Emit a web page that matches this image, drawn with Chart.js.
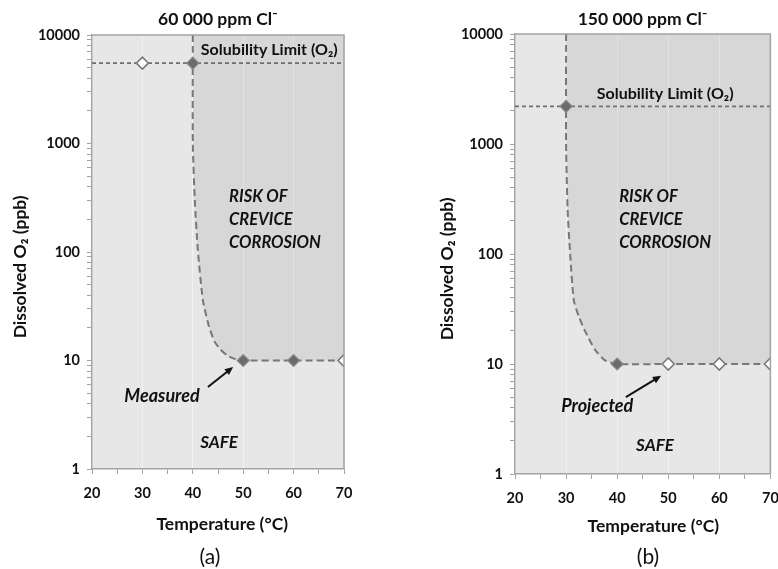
<!DOCTYPE html>
<html><head><meta charset="utf-8">
<script src="https://cdn.jsdelivr.net/npm/chart.js@4/dist/chart.umd.min.js"></script>
<style>
html,body{margin:0;padding:0;background:#fff;}
#wrap{position:relative;width:778px;height:569px;overflow:hidden;}
canvas{position:absolute;top:0;}
</style></head><body>
<div id="wrap">
<canvas id="c1" width="389" height="569" style="left:0"></canvas>
<canvas id="c2" width="389" height="569" style="left:389px"></canvas>
</div>
<script>
// ---------- shared axes ----------
const xTickLabels = [20, 30, 40, 50, 60, 70];
const yTickLabels = [1, 10, 100, 1000, 10000];

// ---------- panel (a): 60 000 ppm Cl- ----------
const titleA = '60 000 ppm Cl⁻';
const solubilityA = 5500;
const filledTempA = [40, 50, 60];
const filledO2A = [5500, 10, 10];
const openTempA = [30, 70];
const openO2A = [5500, 10];
const boundaryTempA = [40, 40, 40.4, 41, 42, 43.2, 44.3, 45.5, 47, 48.5, 50, 60, 70];
const boundaryO2A = [10000, 1000, 300, 104, 36, 20.7, 15, 12.6, 11, 10.3, 10, 10, 10];

// ---------- panel (b): 150 000 ppm Cl- ----------
const titleB = '150 000 ppm Cl⁻';
const solubilityB = 2200;
const filledTempB = [30, 40];
const filledO2B = [2200, 10];
const openTempB = [50, 60, 70];
const openO2B = [10, 10, 10];
const boundaryTempB = [30, 30, 30.3, 30.8, 31.5, 32.5, 33.7, 35.7, 37.6, 40, 50, 60, 70];
const boundaryO2B = [10000, 1000, 250, 100, 38, 27, 20, 13.4, 10.8, 10, 10, 10, 10];

const FONT = 'Lato, "DejaVu Sans", sans-serif';
const pts = (xs, ys) => xs.map((x, i) => ({x: x, y: ys[i]}));

const panelPlugin = {
  id: 'panel',
  beforeDraw(chart, args, opts) {
    const {ctx, chartArea: a} = chart;
    ctx.save();
    ctx.fillStyle = '#e7e7e7';
    ctx.fillRect(a.left, a.top, a.right - a.left, a.bottom - a.top);
    ctx.restore();
  },
  afterDraw(chart, args, opts) {
    const {ctx, chartArea: a} = chart;
    const x = chart.scales.x, y = chart.scales.y;
    ctx.save();
    ctx.strokeStyle = '#a3a3a3';
    ctx.lineWidth = 1.5;
    ctx.beginPath();
    ctx.moveTo(a.left, a.top); ctx.lineTo(a.right, a.top); ctx.lineTo(a.right, a.bottom);
    ctx.stroke();
    ctx.fillStyle = '#111';
    ctx.textBaseline = 'middle';
    for (const t of opts.texts) {
      ctx.font = t.font;
      ctx.textAlign = t.align;
      const px = x.getPixelForValue(t.x), py = y.getPixelForValue(t.y);
      t.lines.forEach((s, i) => ctx.fillText(s, px, py + i * (t.step || 0)));
    }
    const ar = opts.arrow;
    const x1 = x.getPixelForValue(ar.from[0]), y1 = y.getPixelForValue(ar.from[1]);
    const x2 = x.getPixelForValue(ar.to[0]), y2 = y.getPixelForValue(ar.to[1]);
    const ang = Math.atan2(y2 - y1, x2 - x1);
    ctx.strokeStyle = '#111'; ctx.lineWidth = 2;
    ctx.beginPath(); ctx.moveTo(x1, y1);
    ctx.lineTo(x2 - 6 * Math.cos(ang), y2 - 6 * Math.sin(ang)); ctx.stroke();
    ctx.beginPath();
    ctx.moveTo(x2, y2);
    ctx.lineTo(x2 - 9 * Math.cos(ang - 0.42), y2 - 9 * Math.sin(ang - 0.42));
    ctx.lineTo(x2 - 9 * Math.cos(ang + 0.42), y2 - 9 * Math.sin(ang + 0.42));
    ctx.closePath(); ctx.fill();
    ctx.font = '21px ' + FONT;
    ctx.textAlign = 'center';
    ctx.fillText(opts.caption, opts.captionX, opts.captionY);
    ctx.restore();
  }
};

function makePanel(canvasId, cfg) {
  return new Chart(document.getElementById(canvasId), {
    type: 'scatter',
    data: {
      datasets: [
        { data: pts(cfg.filledT, cfg.filledV), pointStyle: 'rectRot', pointRadius: 6, pointHoverRadius: 6,
          backgroundColor: '#6b6b6b', borderColor: '#8a8a8a', borderWidth: 1.2, showLine: false },
        { data: pts(cfg.openT, cfg.openV), pointStyle: 'rectRot', pointRadius: 6, pointHoverRadius: 6,
          backgroundColor: '#ffffff', borderColor: '#7a7a7a', borderWidth: 1.6, showLine: false },
        { data: pts([20, 70], [cfg.sol, cfg.sol]), showLine: true, pointRadius: 0,
          borderColor: '#6f6f6f', borderWidth: 1.6, borderDash: [4, 3], fill: false },
        { data: pts(cfg.boundT, cfg.boundV), showLine: true, pointRadius: 0, tension: 0.2,
          borderColor: '#777777', borderWidth: 2, borderDash: [7, 4],
          fill: 'end', backgroundColor: 'rgba(0,0,0,0.065)' }
      ]
    },
    options: {
      responsive: false, animation: false, devicePixelRatio: 1,
      layout: { padding: { left: 0, right: cfg.padRight, top: 0, bottom: 0 } },
      plugins: {
        legend: { display: false }, tooltip: { enabled: false },
        title: { display: true, text: cfg.title, fullSize: false, color: '#111',
                 font: { family: FONT, size: 17.5, weight: 'bold', lineHeight: 1.2 },
                 padding: { top: 9, bottom: cfg.titleBottom } },
        panel: cfg.panel
      },
      scales: {
        x: {
          type: 'linear', min: 20, max: 70,
          afterBuildTicks: s => { const t = []; for (let v = 20; v <= 70; v += 5) t.push({value: v}); s.ticks = t; },
          afterFit: s => { s.height = cfg.xAxisH; s.paddingLeft = 0; s.paddingRight = 0; },
          ticks: { autoSkip: false, maxRotation: 0, padding: 11, color: '#111',
                   font: { family: FONT, size: 14.5, weight: 'bold' },
                   callback: v => xTickLabels.includes(v) ? String(v) : '' },
          grid: { drawOnChartArea: true, drawTicks: true, tickLength: 5,
                  color: c => (c.tick && c.tick.value % 10 === 0) ? '#f2f2f2' : 'rgba(0,0,0,0)',
                  tickColor: '#a3a3a3', lineWidth: 1 },
          border: { color: '#a3a3a3', width: 1.5 },
          title: { display: true, text: cfg.xTitle, color: '#111',
                   font: { family: FONT, size: 17.5, weight: 'bold', lineHeight: 1.2 },
                   padding: { top: 0, bottom: cfg.xTitleBottom } }
        },
        y: {
          type: 'logarithmic', min: 1, max: 10000,
          afterBuildTicks: s => { const t = [];
            for (let i = 0; i < yTickLabels.length - 1; i++) for (let m = 1; m <= 9; m++) t.push({value: m * yTickLabels[i]});
            t.push({value: yTickLabels[yTickLabels.length - 1]}); s.ticks = t; },
          afterFit: s => { s.width = cfg.yAxisW; },
          ticks: { autoSkip: false, padding: 7, color: '#111',
                   font: { family: FONT, size: 14.5, weight: 'bold' },
                   callback: v => yTickLabels.includes(v) ? String(v) : '' },
          grid: { drawOnChartArea: false, drawTicks: true, tickLength: 5, tickColor: '#a3a3a3' },
          border: { color: '#a3a3a3', width: 1.5 },
          title: { display: true, text: 'Dissolved O₂ (ppb)       ', color: '#111',
                   font: { family: FONT, size: 17.5, weight: 'bold', lineHeight: 1.2 },
                   padding: { top: cfg.yTitleTop, bottom: 0 } }
        }
      }
    },
    plugins: [panelPlugin]
  });
}

makePanel('c1', {
  title: titleA, sol: solubilityA, xTitle: '  Temperature (°C)',
  filledT: filledTempA, filledV: filledO2A, openT: openTempA, openV: openO2A,
  boundT: boundaryTempA, boundV: boundaryO2A,
  padRight: 45, titleBottom: 5, xAxisH: 100, yAxisW: 92, xTitleBottom: 34.5, yTitleTop: 9.5,
  panel: {
    caption: '(a)', captionX: 210, captionY: 557,
    texts: [
      { x: 41.6, y: 7300, lines: ['Solubility Limit (O₂)'], align: 'left', font: 'bold 16px ' + FONT },
      { x: 47.2, y: 321, lines: ['RISK OF', 'CREVICE', 'CORROSION'], step: 23, align: 'left', font: 'italic bold 16.5px ' + FONT },
      { x: 33.9, y: 4.7, lines: ['Measured'], align: 'center', font: 'italic bold 18px ' + FONT },
      { x: 45.2, y: 1.77, lines: ['SAFE'], align: 'center', font: 'italic bold 17px ' + FONT }
    ],
    arrow: { from: [43.0, 5.7], to: [48.0, 8.7] }
  }
});

makePanel('c2', {
  title: titleB, sol: solubilityB, xTitle: '     Temperature (°C)',
  filledT: filledTempB, filledV: filledO2B, openT: openTempB, openV: openO2B,
  boundT: boundaryTempB, boundV: boundaryO2B,
  padRight: 6, titleBottom: 4, xAxisH: 95, yAxisW: 126, xTitleBottom: 32.5, yTitleTop: 47.5,
  panel: {
    caption: '(b)', captionX: 259, captionY: 557,
    texts: [
      { x: 36.0, y: 2850, lines: ['Solubility Limit (O₂)'], align: 'left', font: 'bold 16px ' + FONT },
      { x: 40.4, y: 330, lines: ['RISK OF', 'CREVICE', 'CORROSION'], step: 23, align: 'left', font: 'italic bold 16.5px ' + FONT },
      { x: 36.1, y: 4.15, lines: ['Projected'], align: 'center', font: 'italic bold 18px ' + FONT },
      { x: 47.4, y: 1.8, lines: ['SAFE'], align: 'center', font: 'italic bold 17px ' + FONT }
    ],
    arrow: { from: [41.7, 5.0], to: [48.6, 7.8] }
  }
});
</script>
</body></html>
